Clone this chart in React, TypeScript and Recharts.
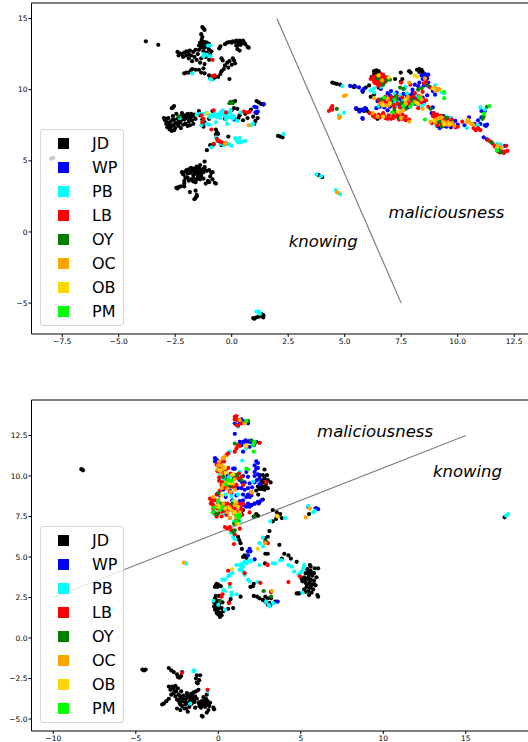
import {
  ScatterChart,
  Scatter,
  XAxis,
  YAxis,
  Legend,
  ReferenceArea,
  ReferenceLine,
  ReferenceDot,
} from 'recharts'

type Pt = [number, number]

const GROUPS = ['JD', 'WP', 'PB', 'LB', 'OY', 'OC', 'OB', 'PM']
const COLORS = ['#000000', '#0000ff', '#00ffff', '#ff0000', '#008000', '#ffa500', '#ffd700', '#00ff00']

// upper panel
const topXTicks = [-7.5, -5, -2.5, 0, 2.5, 5, 7.5, 10, 12.5]
const topYTicks = [-5, 0, 5, 10, 15]

const topJD: Pt[] = [
  [-7.9, 5.2], [-8.0, 5.15], [-3.8, 13.4], [-3.25, 13.15],
  [-1.3, 14.4], [-1.25, 14.3], [-1.2, 14.2], [-1.35, 13.9], [-1.3, 13.7], [-1.33, 13.5],
  [-1.4, 13.3], [-1.3, 13.35], [-1.2, 13.35], [-1.1, 13.3], [-1.45, 13.1], [-1.3, 13.1], [-1.15, 13.1], [-1.0, 13.2],
  [-1.35, 12.95], [-1.2, 12.95], [-1.05, 13.0],
  [-2.4, 12.65], [-2.3, 12.55], [-2.35, 12.4], [-2.2, 12.5], [-2.15, 12.3], [-2.1, 12.6], [-2.0, 12.4], [-2.0, 12.7],
  [-1.9, 12.5], [-1.9, 12.2], [-1.85, 12.75], [-1.8, 12.4], [-1.75, 12.0], [-1.7, 12.65], [-1.65, 12.3], [-1.6, 12.8],
  [-1.55, 12.1], [-1.5, 12.5], [-1.45, 12.8], [-1.4, 11.9], [-1.35, 12.2], [-1.25, 12.7], [-1.2, 11.8], [-1.15, 12.3],
  [-1.1, 12.6], [-1.0, 12.1], [-1.0, 12.8], [-0.95, 12.45], [-0.9, 12.7],
  [-2.1, 11.15], [-2.0, 11.2], [-1.9, 11.2], [-1.8, 11.35], [-1.75, 11.45], [-1.6, 11.4], [-1.45, 11.4], [-1.35, 11.2],
  [-1.2, 11.15], [-1.25, 11.5],
  [-1.0, 11.0], [-0.95, 10.8], [-0.85, 10.75], [-0.75, 10.85], [-0.6, 10.9], [-0.5, 11.1], [-0.45, 11.3], [-0.35, 11.45],
  [-0.3, 11.7], [-0.2, 11.9], [-0.1, 12.0], [0.05, 12.2], [0.1, 12.05], [0.15, 11.85], [-0.45, 12.2], [-0.4, 12.05],
  [-0.15, 11.55], [0.0, 11.75], [-0.1, 10.75],
  [-0.3, 13.2], [-0.2, 13.3], [-0.1, 13.35], [0.0, 13.3], [0.05, 13.4], [0.15, 13.35], [0.2, 13.45], [0.3, 13.3],
  [0.35, 13.45], [0.45, 13.35], [0.5, 13.45], [0.55, 13.3], [0.6, 13.2], [0.7, 13.0], [0.75, 12.95], [0.2, 13.1],
  [0.3, 13.15], [0.4, 13.15], [0.25, 12.85], [0.35, 12.75], [-0.55, 12.9], [-0.5, 13.05],
  [-2.6, 8.75], [-2.55, 8.85], [-2.65, 8.7], [-3.0, 8.0], [-2.95, 7.85], [-2.9, 7.95], [-2.85, 7.7], [-2.8, 8.0],
  [-2.8, 7.5], [-2.75, 7.2], [-2.7, 7.35], [-2.7, 7.75], [-2.65, 7.1], [-2.6, 7.5], [-2.6, 8.15], [-2.55, 7.9],
  [-2.5, 7.3], [-2.45, 8.3], [-2.45, 7.6], [-2.4, 7.95], [-2.35, 7.45], [-2.3, 8.1], [-2.3, 7.7], [-2.25, 7.3],
  [-2.2, 8.35], [-2.15, 7.55], [-2.1, 7.9], [-2.05, 8.2], [-2.05, 7.6], [-2.0, 8.0], [-1.95, 8.3], [-1.9, 7.75],
  [-1.85, 7.5], [-1.8, 8.1], [-1.8, 8.3], [-1.75, 7.85], [-1.7, 7.6], [-1.65, 8.25], [-1.6, 7.95], [-2.9, 7.6],
  [-2.5, 7.65], [-2.75, 7.55], [-2.25, 7.85], [-1.95, 7.45], [-2.55, 7.15], [-2.15, 8.1], [-1.85, 7.95], [-1.7, 8.15],
  [-1.9, 8.1], [-2.35, 7.75], [-2.85, 7.35], [-2.6, 7.9],
  [-1.45, 8.5], [-1.4, 8.2], [-1.3, 7.9], [-1.25, 7.4], [-1.2, 7.7], [-1.0, 7.95], [-0.85, 8.5], [-0.7, 7.2],
  [-0.65, 7.0], [-0.7, 6.85], [-0.6, 6.9], [-0.15, 6.7], [-0.3, 7.95], [0.0, 8.55], [0.1, 8.7], [0.25, 8.65],
  [0.3, 8.0], [0.35, 8.2], [0.5, 7.85], [0.6, 8.3], [0.7, 8.0], [0.85, 8.6], [0.95, 8.1], [1.0, 7.6], [1.05, 7.8],
  [1.1, 8.35], [1.15, 8.0], [1.1, 9.2], [1.2, 9.1], [1.3, 9.0], [1.4, 8.95], [0.15, 9.2], [0.05, 9.15],
  [-1.1, 5.75], [-0.95, 6.1], [-0.8, 6.15], [-0.45, 6.1],
  [-1.2, 4.95], [-1.4, 4.7], [-1.55, 4.6], [-2.2, 4.2], [-2.15, 4.05], [-2.05, 4.25], [-2.0, 4.35], [-1.95, 4.1],
  [-1.9, 4.4], [-1.85, 4.15], [-1.8, 4.5], [-1.75, 4.25], [-1.7, 4.0], [-1.65, 4.45], [-1.6, 4.2], [-1.55, 4.35],
  [-1.5, 4.05], [-1.45, 4.5], [-1.4, 4.25], [-1.35, 4.0], [-1.3, 4.4], [-1.25, 4.2], [-1.2, 4.55], [-1.1, 4.3],
  [-1.0, 4.35], [-0.9, 4.15], [-0.85, 4.2], [-0.95, 3.9], [-0.85, 3.7], [-1.05, 3.6], [-1.15, 3.4], [-1.0, 3.5],
  [-0.75, 3.45], [-0.7, 3.4], [-2.1, 3.6], [-2.05, 3.85], [-2.1, 3.4], [-1.9, 3.6], [-1.8, 3.7], [-1.7, 3.55],
  [-1.55, 3.7], [-1.4, 3.7], [-1.25, 3.75], [-1.6, 3.5], [-2.45, 3.1], [-2.35, 3.15], [-2.4, 3.05], [-2.25, 3.2],
  [-2.1, 3.2], [-1.85, 2.8], [-1.6, 2.9], [-1.55, 2.6], [-1.6, 2.4], [-1.65, 2.3], [-1.55, 2.5],
  [-1.6, 4.1], [-1.45, 4.15], [-1.3, 4.25], [-1.75, 4.4], [-1.5, 4.3], [-1.2, 4.35], [-1.7, 3.8], [-1.5, 3.85],
  [-1.35, 3.85], [-1.95, 3.8],
  [1.0, -6.1], [0.95, -6.05], [1.1, -6.0], [1.2, -5.95], [1.3, -5.9], [1.4, -5.85], [1.3, -5.75], [1.4, -6.0],
  [2.05, 6.75], [2.15, 6.7], [2.25, 6.65], [3.85, 4.0], [4.0, 3.85],
  [4.45, 10.5], [4.55, 10.45], [4.65, 10.4], [4.8, 10.35], [5.38, 10.2], [5.45, 10.2],
  [6.37, 11.2], [6.45, 11.2], [6.55, 11.15], [6.3, 11.1], [6.2, 10.9], [6.3, 11.3], [6.4, 11.35], [6.5, 11.3],
  [7.48, 11.2], [7.85, 11.3], [7.92, 11.2],
  [8.2, 11.4], [8.3, 11.45], [8.4, 11.4], [8.3, 11.25], [8.45, 11.25], [7.55, 10.75], [7.23, 10.75], [7.48, 10.55],
  [5.8, 9.85], [5.93, 10.15], [6.08, 10.3], [6.15, 9.5], [6.3, 9.67], [6.5, 10.15],
  [5.5, 8.65], [5.6, 8.6], [5.7, 8.55], [5.85, 8.5], [5.95, 8.65], [6.0, 8.5], [6.45, 7.95],
  [8.95, 7.7], [9.1, 7.45], [9.25, 7.7], [9.4, 8.1], [9.45, 7.55], [9.55, 8.0], [9.7, 7.75], [9.35, 8.15],
]
const topWP: Pt[] = [
  [1.1, 8.75], [1.0, 8.8], [1.05, 8.4], [1.15, 8.45], [1.43, 8.99], [0.1, 7.9],
  [5.24, 10.26], [5.44, 10.26], [5.63, 10.16], [5.78, 9.93], [5.85, 10.05], [5.5, 8.7], [5.75, 8.6], [5.85, 8.55],
  [5.9, 8.7], [5.65, 8.45], [5.8, 7.95], [5.78, 8.0],
  [8.4, 11.0], [8.5, 10.9], [8.55, 11.1], [8.6, 10.95], [8.7, 11.05], [8.45, 10.75], [8.65, 10.8], [8.3, 10.5],
  [8.1, 10.35], [8.5, 10.3], [8.7, 10.5], [8.75, 10.2], [8.0, 10.0], [7.65, 10.1], [7.9, 9.6], [7.2, 9.45], [7.1, 9.25],
  [7.3, 9.1], [7.0, 9.6], [7.55, 9.2], [6.6, 10.05], [6.45, 9.2], [6.7, 9.35], [6.95, 9.0], [7.4, 8.9], [7.8, 8.75],
  [8.15, 9.0], [8.5, 9.1], [8.9, 8.75], [6.55, 8.8], [6.4, 8.7], [6.9, 8.55], [9.7, 8.0], [9.9, 7.8], [10.0, 7.55],
  [10.3, 7.5], [10.75, 7.6], [11.0, 7.6], [11.05, 8.05], [10.9, 7.85], [11.2, 7.5], [11.3, 7.55], [11.25, 7.45],
  [11.15, 6.65], [11.3, 6.5], [10.5, 8.05], [9.2, 7.3], [9.5, 7.4], [8.95, 8.2], [11.9, 5.75], [12.1, 6.05], [11.7, 6.05],
  [11.75, 5.85], [11.85, 6.0], [11.05, 8.5], [11.2, 8.5],
  [6.9, 9.75], [7.05, 9.9], [7.3, 9.8], [7.6, 9.7], [7.75, 9.55], [8.0, 9.75], [8.25, 10.25], [8.15, 9.4], [8.45, 9.45],
  [7.45, 9.35], [7.2, 8.9], [6.75, 8.75], [7.0, 8.8], [8.65, 9.6], [8.9, 9.9], [9.0, 9.65], [9.4, 7.45], [9.7, 7.35], [8.85, 8.35],
]
const topPB: Pt[] = [
  [-0.95, 13.1], [-1.05, 13.1], [-1.25, 12.5], [-1.25, 12.35], [-1.1, 12.45], [-0.95, 12.35], [-1.75, 11.15],
  [-0.95, 10.75], [-0.9, 10.7],
  [-1.55, 8.25], [-1.4, 8.3], [-1.3, 8.25], [-1.2, 8.3], [-1.1, 8.35], [-1.0, 8.2], [-0.95, 8.05], [-0.9, 8.2],
  [-0.8, 8.15], [-0.75, 8.3], [-0.65, 8.05], [-0.6, 8.25], [-0.55, 8.15], [-0.5, 8.4], [-0.5, 8.0], [-0.45, 8.25],
  [-0.4, 8.55], [-0.35, 8.35], [-0.3, 8.15], [-0.25, 8.1], [-0.25, 7.9], [-0.2, 8.3], [-0.1, 8.4], [-0.1, 8.05],
  [-0.05, 8.55], [0.0, 8.2], [0.05, 7.95], [0.1, 8.1], [-0.2, 7.6], [-0.7, 7.7], [-1.1, 7.6], [-1.3, 7.7], [-1.35, 7.5],
  [-2.3, 8.0], [-1.0, 7.55], [0.25, 7.8], [0.85, 7.5], [0.95, 7.6], [0.4, 8.4],
  [-0.7, 6.65], [-0.65, 6.4], [-0.5, 6.2], [-0.35, 6.1], [-0.1, 6.15], [0.0, 6.05], [0.15, 6.6], [0.2, 6.5], [0.25, 6.35],
  [0.3, 6.3], [0.4, 6.3], [0.5, 6.35], [0.6, 6.4], [0.35, 6.6], [-0.9, 5.95],
  [1.1, -5.6], [1.2, -5.6], [1.25, -5.75], [2.28, 6.87], [3.75, 4.05], [3.95, 3.9], [4.6, 2.95], [4.8, 2.65],
  [4.75, 8.2], [4.97, 8.38], [4.9, 10.25], [6.3, 9.8], [6.5, 8.85], [6.6, 10.2], [6.9, 10.9], [6.95, 10.8], [7.7, 10.2],
  [8.15, 9.6], [9.0, 10.3], [9.3, 9.8], [9.4, 9.75], [8.36, 8.8], [7.9, 9.15], [7.25, 9.15], [7.5, 8.7], [9.7, 8.0],
  [10.4, 7.3], [11.0, 8.75], [11.2, 8.6], [10.9, 7.5], [11.75, 6.2], [11.7, 5.95], [11.9, 6.15],
  [7.0, 9.15], [7.2, 9.7], [7.45, 9.6], [7.6, 9.3], [8.0, 9.2], [7.3, 8.85], [8.5, 8.95], [6.65, 9.2], [7.75, 9.75],
  [6.3, 10.1], [6.15, 9.95], [9.05, 7.55], [9.5, 8.1],
]
const topLB: Pt[] = [
  [-0.85, 12.1], [-0.8, 10.95], [-0.75, 11.0], [-0.85, 10.95],
  [-1.35, 8.2], [-0.8, 8.55], [-1.3, 7.7], [-0.25, 8.4], [0.55, 8.45], [0.7, 8.4], [0.8, 8.45], [-0.9, 7.2], [-1.25, 7.95],
  [-0.65, 6.55], [-0.6, 6.4], [-0.5, 6.35], [-0.45, 6.3], [-0.35, 6.25], [-0.25, 6.2], [-0.8, 6.2],
  [4.4, 8.7], [4.3, 8.5], [4.45, 8.85], [4.45, 8.6],
  [6.15, 10.75], [6.3, 10.55], [6.35, 10.85], [6.4, 10.65], [6.45, 10.4], [6.5, 10.75], [6.55, 10.95], [6.6, 10.55],
  [6.65, 10.8], [6.7, 11.05], [6.7, 10.45], [6.75, 10.7], [6.6, 11.1], [6.85, 10.85], [6.5, 10.25], [6.35, 10.45],
  [6.25, 10.9], [6.4, 10.95], [6.55, 10.5], [6.65, 10.35], [6.6, 10.75], [6.45, 10.55], [6.3, 10.7], [6.75, 10.9], [6.8, 10.55],
  [6.5, 9.3], [6.7, 9.05], [6.8, 9.5], [7.0, 9.3], [7.3, 9.55], [7.55, 9.45], [7.75, 9.2], [7.9, 9.4], [8.2, 9.3],
  [8.3, 9.55], [8.45, 9.85], [8.1, 9.75], [8.4, 9.1], [8.6, 9.25], [8.7, 8.8], [7.45, 8.75], [7.65, 8.8], [8.6, 10.55],
  [8.8, 10.15], [8.5, 10.45], [7.9, 10.35], [7.5, 10.5], [7.95, 9.1], [6.85, 9.05], [7.2, 8.75],
  [6.55, 9.15], [6.75, 9.2], [6.95, 9.15], [7.15, 8.95], [7.35, 9.0], [7.6, 9.0], [7.85, 9.0], [8.05, 9.5], [8.3, 9.2],
  [8.45, 9.35], [8.25, 8.7], [7.05, 9.5], [6.6, 8.95],
  [6.1, 8.35], [6.3, 8.25], [6.35, 8.05], [6.5, 8.25], [6.6, 8.15], [6.7, 8.35], [6.8, 8.0], [6.9, 7.95], [7.05, 7.95],
  [7.15, 8.0], [7.3, 8.1], [7.4, 7.9], [7.55, 8.25], [7.7, 8.1], [7.55, 7.95], [7.85, 7.9], [7.3, 8.4],
  [6.25, 8.15], [6.55, 8.05], [6.95, 8.2], [7.15, 8.2], [7.35, 8.2], [7.7, 7.85], [6.75, 8.15],
  [8.9, 8.15], [9.0, 7.95], [9.05, 8.2], [9.2, 7.85], [9.3, 7.6], [9.35, 8.0], [9.5, 7.7], [9.6, 7.5], [9.1, 7.5],
  [9.75, 7.9], [9.9, 7.35], [10.0, 7.4], [10.2, 7.75], [10.8, 7.15], [10.9, 7.3], [11.0, 7.15], [10.7, 7.3],
  [9.1, 8.25], [8.95, 8.35], [9.25, 8.15], [9.4, 7.9], [9.15, 7.7], [9.65, 7.65], [9.55, 7.95], [9.8, 7.55], [9.3, 7.45], [8.85, 7.65],
  [11.35, 6.45], [11.45, 6.35], [11.55, 6.2], [11.65, 6.0], [12.1, 5.65], [12.2, 5.7], [12.0, 5.6], [11.85, 5.6],
  [11.95, 5.65], [12.05, 5.55], [12.15, 6.05],
]
const topOY: Pt[] = [
  [-0.1, 9.05], [-0.05, 9.15], [0.0, 9.1], [0.05, 9.05], [-2.35, 8.1], [4.65, 8.65], [6.85, 10.65], [7.0, 10.7],
  [6.6, 10.6], [6.45, 10.8], [7.45, 10.15], [7.6, 10.05], [8.25, 10.0], [8.4, 10.1], [7.3, 9.3], [7.95, 8.95], [8.0, 9.3],
  [6.6, 9.3], [7.7, 8.65], [7.2, 8.55], [8.8, 8.65], [9.5, 8.0], [9.2, 7.75], [9.3, 7.4], [11.15, 8.1], [11.1, 7.95],
  [11.3, 8.8], [11.5, 6.3], [11.75, 5.7], [11.9, 5.6], [8.65, 10.3], [7.4, 8.0], [9.75, 7.7], [6.7, 10.35],
  [7.25, 9.5], [7.5, 9.05], [8.25, 9.2], [7.05, 9.05], [9.1, 9.95],
]
const topOC: Pt[] = [
  [-0.3, 6.2], [-0.25, 6.25], [0.75, 7.5], [4.97, 9.56], [5.05, 9.6], [4.8, 8.1], [4.75, 8.0], [4.65, 2.8], [4.7, 2.75],
  [6.65, 10.65], [6.25, 8.35], [6.45, 8.1], [6.65, 9.05], [6.3, 9.4], [6.9, 9.35], [7.45, 8.4], [7.6, 8.55], [7.5, 8.0],
  [7.85, 7.75], [8.35, 9.55], [8.1, 9.15], [8.25, 9.0], [9.0, 10.15], [9.15, 10.05], [9.1, 10.0], [8.55, 10.8], [9.0, 7.7],
  [9.45, 7.65], [9.6, 7.7], [9.3, 8.05], [9.1, 7.95], [9.85, 7.45], [10.4, 7.7], [10.5, 7.75], [10.6, 7.6], [10.7, 7.55],
  [10.45, 7.9], [11.8, 6.1], [11.95, 5.9], [8.8, 7.75], [7.85, 10.5],
  [6.6, 9.0], [6.8, 8.9], [6.95, 8.9], [7.7, 9.05], [8.4, 9.3], [9.0, 9.95], [9.2, 10.0], [8.45, 8.65], [7.8, 9.5],
  [9.35, 7.75], [9.2, 8.0], [9.55, 7.55], [9.75, 7.65],
]
const topOB: Pt[] = [
  [-1.1, 8.3], [6.5, 11.0], [6.95, 10.85], [8.1, 11.0], [8.2, 10.9], [6.7, 8.9], [7.0, 9.05], [7.7, 9.3], [8.2, 9.05],
  [8.9, 10.1], [9.4, 7.55], [8.95, 7.85], [7.35, 8.45], [6.7, 8.1], [9.65, 7.55], [11.75, 5.95],
]
const topPM: Pt[] = [
  [7.9, 8.8], [7.2, 9.3], [8.0, 9.0], [8.55, 7.9], [9.4, 9.4], [9.4, 9.85], [7.6, 8.85], [6.75, 9.45], [11.4, 8.85],
  [11.15, 8.3], [11.75, 5.75], [8.3, 9.45], [7.1, 8.4],
]

// lower panel
const botXTicks = [-10, -5, 0, 5, 10, 15]
const botYTicks = [-5, -2.5, 0, 2.5, 5, 7.5, 10, 12.5]

const botJD: Pt[] = [
  [-8.25, 10.4], [-8.2, 10.35], [-8.3, 10.42], [-4.6, -1.95], [-4.5, -2.0], [-4.4, -1.95],
  [-3.0, -1.85], [-2.85, -2.0], [-2.7, -2.1], [-2.5, -2.25], [-2.45, -2.4], [-2.35, -2.45], [-2.25, -2.35], [-2.2, -2.1],
  [-1.3, -2.3], [-1.35, -2.5], [-1.1, -2.3], [-1.15, -2.6], [-1.25, -2.8], [-1.3, -2.75],
  [-3.0, -3.0], [-2.9, -3.2], [-2.8, -3.0], [-2.7, -3.15], [-2.6, -2.95], [-2.85, -3.5], [-2.7, -3.4], [-2.6, -3.6],
  [-2.55, -3.3], [-2.5, -3.8], [-2.45, -3.1], [-2.4, -3.5], [-2.35, -4.0], [-2.3, -3.7], [-2.25, -3.3], [-2.2, -4.2],
  [-2.15, -3.9], [-2.1, -3.55], [-2.05, -4.35], [-2.0, -4.1], [-1.95, -3.75], [-1.9, -3.4], [-1.85, -4.55], [-1.85, -4.0],
  [-1.8, -3.6], [-1.75, -4.25], [-1.7, -3.85], [-1.65, -3.45], [-1.6, -4.05], [-1.55, -3.7], [-1.5, -3.35], [-1.45, -3.95],
  [-1.4, -3.6], [-1.35, -3.3], [-1.3, -3.75], [-3.4, -4.1], [-3.3, -4.05], [-3.15, -3.9], [-3.0, -3.75], [-2.5, -4.35],
  [-2.3, -4.45], [-1.2, -3.2],
  [-2.4, -3.85], [-2.1, -3.8], [-1.9, -3.65], [-2.2, -3.6], [-2.0, -3.95], [-1.7, -3.7], [-1.6, -3.5], [-1.5, -3.85],
  [-2.3, -4.1], [-1.95, -4.35],
  [-1.2, -4.0], [-1.15, -4.2], [-1.1, -3.95], [-1.05, -4.3], [-1.0, -3.9], [-0.95, -4.15], [-0.9, -3.65], [-0.85, -4.0],
  [-0.8, -4.25], [-0.75, -3.75], [-0.7, -4.1], [-0.65, -3.9], [-0.55, -4.2], [-0.5, -4.0], [-0.3, -4.3], [-0.25, -4.4],
  [-0.6, -4.45], [-0.7, -4.6], [-1.0, -4.8], [-0.95, -4.85], [-1.4, -4.3], [-0.7, -3.5], [-0.9, -4.05], [-0.8, -3.85], [-1.0, -4.1],
  [2.8, 10.4], [2.5, 10.05], [2.7, 10.05], [2.95, 10.05], [2.8, 9.85], [3.0, 9.75], [3.17, 9.6], [2.6, 9.55], [2.9, 9.5],
  [2.4, 9.35], [2.7, 9.35], [3.0, 9.25], [2.5, 9.2], [2.8, 9.15], [2.3, 9.1], [2.42, 8.85], [2.7, 8.55], [2.5, 8.4],
  [2.6, 9.75], [2.75, 9.6], [2.55, 9.35], [2.85, 9.3], [2.65, 9.2],
  [2.2, 8.3], [2.0, 8.2], [2.3, 7.65], [2.4, 7.55], [2.15, 7.5], [3.3, 7.9], [3.55, 7.75], [3.75, 7.65], [3.85, 7.4],
  [3.5, 7.35], [3.3, 7.2], [3.65, 7.55], [5.5, 7.65], [5.9, 8.0], [1.5, 7.9], [1.4, 7.7],
  [3.1, 6.6], [3.0, 6.25], [1.2, 6.25], [1.27, 6.05], [1.35, 5.85], [1.43, 5.5], [3.7, 5.75], [2.83, 6.15],
  [2.85, 5.2], [3.0, 5.2], [1.6, 5.1], [1.5, 5.0], [1.7, 4.95], [2.83, 4.6],
  [4.0, 5.2], [4.25, 5.1], [4.4, 4.9], [3.85, 4.9], [4.75, 4.7], [5.55, 4.5],
  [5.6, 4.4], [5.85, 4.3], [6.05, 4.3], [5.4, 4.25], [5.6, 4.15], [5.8, 4.0], [5.3, 4.0], [5.5, 3.9], [5.7, 3.85],
  [5.2, 3.75], [5.4, 3.65], [5.6, 3.6], [5.8, 3.55], [5.95, 3.75], [5.1, 3.5], [5.3, 3.4], [5.5, 3.35], [5.7, 3.3],
  [5.9, 3.25], [5.35, 3.15], [5.55, 3.1], [5.75, 3.0], [5.45, 2.9], [5.65, 2.8], [5.5, 2.65], [5.3, 2.85], [6.0, 2.65],
  [6.05, 2.55], [4.85, 2.75], [4.75, 2.75], [5.2, 3.0], [5.05, 3.65],
  [5.45, 3.75], [5.25, 3.6], [5.65, 4.0], [5.45, 4.05], [5.55, 3.45], [5.6, 3.15], [5.4, 3.35], [5.8, 3.35],
  [-0.15, 3.25], [0.0, 3.3], [-0.2, 3.15], [-0.05, 3.15], [0.15, 3.2], [-0.1, 3.35],
  [-0.15, 2.6], [-0.05, 2.3], [0.05, 2.6], [-0.25, 2.2], [-0.15, 2.0], [-0.05, 1.8], [0.0, 1.6], [0.1, 1.5], [0.2, 1.4],
  [0.1, 1.3], [-0.1, 1.55], [-0.2, 1.75], [0.3, 1.65], [0.2, 1.85], [0.05, 2.05], [0.25, 2.2], [-0.25, 1.95], [0.6, 1.8],
  [0.05, 1.85], [0.0, 1.45], [0.15, 1.55], [-0.1, 2.2], [-0.2, 2.45],
  [0.65, 2.2], [0.9, 1.85], [0.75, 2.4], [1.35, 2.55], [1.95, 3.15], [2.1, 3.2], [2.15, 3.35],
  [2.15, 2.6], [2.35, 2.55], [2.5, 2.45], [2.7, 2.35], [2.85, 2.25], [3.0, 2.45], [3.1, 2.15], [3.0, 2.05], [3.2, 2.45],
  [3.45, 2.25], [2.85, 2.55], [3.2, 2.85], [4.9, 2.75], [17.35, 7.45],
]
const botWP: Pt[] = [
  [1.0, 12.6], [1.2, 13.45], [1.4, 13.5], [1.6, 13.35], [1.0, 13.25], [1.3, 13.25], [1.8, 13.25],
  [1.3, 12.1], [1.5, 12.1], [1.7, 12.0], [1.95, 12.1], [2.3, 12.1], [2.5, 12.05], [2.15, 11.9], [1.4, 11.9], [1.9, 11.8],
  [1.5, 11.5], [-0.2, 11.1], [-0.1, 11.0], [0.0, 10.9], [-0.2, 10.9],
  [2.3, 10.9], [2.2, 10.65], [2.4, 10.8], [2.3, 10.45], [2.4, 10.5], [2.2, 10.25], [2.4, 10.1], [2.5, 9.85], [2.2, 10.0],
  [2.35, 9.75], [1.0, 10.45], [0.9, 10.45], [1.8, 9.95], [1.6, 9.6], [1.9, 9.55], [1.8, 9.25], [1.6, 9.15], [2.0, 9.0],
  [1.8, 8.85], [2.0, 8.8], [1.7, 8.7], [1.9, 8.7], [1.3, 9.75], [1.2, 9.25], [0.7, 9.1], [0.3, 9.15], [1.1, 8.8], [1.5, 8.85],
  [1.8, 8.3], [2.0, 8.2], [2.2, 8.3], [1.9, 8.1], [1.7, 8.1], [2.4, 8.4], [2.6, 8.5], [0.1, 8.8], [-0.05, 8.9],
  [5.45, 8.1], [5.95, 8.0], [6.05, 7.95], [1.9, 5.5], [1.8, 5.35], [1.95, 5.35], [1.8, 5.1], [2.2, 4.85], [3.6, 2.25], [3.15, 2.0],
  [-0.05, 10.7], [0.05, 10.55], [0.55, 10.0], [1.4, 9.25], [1.45, 9.6], [0.8, 8.95], [1.5, 8.5], [1.55, 8.2], [1.3, 8.45],
  [0.45, 8.7], [0.85, 8.5], [1.15, 9.9], [1.7, 10.25], [1.5, 10.0], [2.05, 9.3], [2.2, 9.6], [2.5, 9.5], [2.45, 8.3],
  [1.65, 12.2], [1.85, 12.15],
]
const botPB: Pt[] = [
  [1.3, 4.5], [1.45, 4.6], [1.6, 4.7], [1.8, 4.7], [2.0, 4.75], [1.5, 4.4], [1.4, 4.3], [1.7, 4.6], [1.9, 4.8], [1.3, 4.2],
  [1.1, 4.5], [0.85, 4.0], [0.7, 3.9], [0.6, 3.8], [0.4, 3.6], [0.25, 3.6],
  [0.3, 2.95], [0.8, 2.8], [0.8, 2.65], [1.1, 2.7], [0.7, 3.15], [0.4, 2.9], [-0.3, 2.3], [0.0, 2.05], [0.4, 1.75],
  [1.6, 3.9], [1.8, 3.6], [1.9, 3.5], [2.4, 3.45], [1.5, 4.1],
  [2.5, 4.5], [3.3, 4.6], [3.45, 4.6], [3.75, 4.8], [3.85, 4.8], [4.25, 4.5], [4.45, 4.4], [4.6, 4.1], [4.85, 3.9], [5.05, 4.1],
  [5.2, 4.5], [5.15, 4.3], [4.95, 4.0], [5.1, 2.8], [2.7, 6.2], [2.5, 5.85], [2.7, 5.65], [3.15, 7.2], [4.05, 7.4],
  [5.45, 8.15], [5.85, 7.85], [5.75, 7.75], [3.05, 2.05], [2.9, 2.25], [3.1, 1.95], [3.35, 2.15],
  [1.45, 10.95], [1.0, 13.45], [1.2, 13.05], [0.2, 10.0], [0.2, 9.8], [1.3, 10.25], [1.0, 9.85], [0.3, 9.7], [0.7, 11.5],
  [1.7, 11.7], [2.1, 9.65], [1.2, 8.85], [-0.1, 8.0], [-0.2, 7.6], [1.1, 7.5], [0.9, 6.25], [0.7, 6.75],
  [-1.95, 4.6], [-6.4, 1.8], [-6.5, 1.75], [-6.6, 1.7], [-6.7, 1.65], [-1.45, -2.0], [-1.5, -2.05], [-1.7, -4.05], [-0.65, -3.3],
  [17.45, 7.55], [17.55, 7.65],
  [0.1, 10.1], [0.35, 9.95], [0.65, 9.95], [0.45, 8.85], [0.8, 8.75], [0.9, 8.45], [-0.3, 7.8], [0.35, 7.65], [0.95, 7.2],
  [1.3, 7.2], [0.75, 6.5], [1.0, 6.1],
]
const botLB: Pt[] = [
  [1.0, 13.65], [1.1, 13.7], [1.0, 13.5], [1.15, 13.45], [1.1, 13.15], [1.2, 13.1], [1.4, 13.25],
  [1.1, 11.7], [1.0, 11.5], [1.2, 11.9], [1.3, 11.85], [2.5, 12.05], [0.6, 11.4], [0.3, 11.1], [0.5, 11.3],
  [-0.1, 10.7], [0.1, 10.6], [0.6, 10.5], [0.05, 9.9], [0.9, 10.05], [1.1, 10.05], [1.2, 9.85], [1.4, 9.95], [0.05, 9.7],
  [0.2, 9.45], [0.4, 9.25], [0.8, 9.35], [1.1, 9.45], [1.5, 9.45], [2.0, 8.95], [0.7, 9.0], [-0.1, 8.85],
  [-0.5, 8.6], [-0.4, 8.4], [-0.2, 8.5], [-0.3, 8.2], [-0.45, 8.3], [-0.1, 8.0], [0.1, 8.2], [0.3, 8.0], [0.5, 8.1], [0.6, 7.9],
  [0.8, 8.2], [1.0, 8.0], [1.2, 8.1], [1.4, 7.9], [0.2, 7.8], [0.4, 8.3], [0.7, 8.2], [0.9, 7.9], [-0.1, 7.5], [0.2, 7.5],
  [-0.2, 7.7], [0.7, 7.4], [1.1, 7.3], [1.2, 7.8], [1.9, 7.75], [1.5, 8.3],
  [-0.35, 8.55], [0.0, 8.1], [0.15, 8.0], [0.35, 7.85], [0.55, 8.3], [0.85, 8.05], [1.05, 8.25], [1.3, 8.25], [0.0, 7.7],
  [0.5, 7.6], [-0.3, 8.0], [1.35, 8.05], [1.45, 7.6], [0.1, 9.1], [0.25, 9.6], [0.55, 9.45], [0.75, 9.6], [0.95, 9.3],
  [1.25, 10.15], [0.15, 10.85], [0.35, 10.9], [-0.05, 10.3], [0.3, 10.2], [0.45, 10.4], [0.75, 10.15],
  [0.4, 6.85], [0.55, 6.75], [0.7, 6.85], [1.0, 6.4], [0.95, 5.8], [0.8, 6.65], [1.3, 6.75],
  [2.85, 5.95], [3.0, 5.85], [2.9, 9.6], [0.6, 4.15], [0.7, 3.35], [1.6, 4.0], [3.0, 4.5], [2.95, 4.55], [2.55, 3.4],
  [4.25, 3.45], [4.95, 3.8], [0.25, 2.7], [0.2, 2.55], [0.65, 2.15], [3.2, 2.85], [-2.2, -2.15], [-0.65, -3.2],
]
const botOY: Pt[] = [
  [1.8, 13.4], [1.7, 13.35], [2.0, 12.2], [2.2, 12.0], [1.0, 12.0], [1.1, 10.05], [1.4, 9.75], [0.7, 9.35], [0.5, 9.75],
  [0.0, 8.95], [0.0, 8.3], [-0.3, 7.75], [0.2, 8.3], [1.3, 7.6], [2.2, 7.5], [0.9, 6.55], [1.0, 6.65], [2.75, 2.9],
  [3.2, 2.55], [0.1, 2.3], [2.9, 5.95], [1.3, 7.5],
  [0.3, 9.95], [0.95, 9.85], [0.25, 7.95], [0.85, 8.3], [-0.05, 7.65], [1.2, 7.25], [0.95, 7.05],
]
const botOC: Pt[] = [
  [1.3, 13.45], [1.6, 13.25], [1.7, 11.8], [0.0, 10.65], [0.1, 10.35], [0.3, 11.1], [0.4, 11.2], [0.2, 10.65], [0.25, 10.4],
  [0.8, 10.05], [0.2, 9.25], [0.3, 9.45], [0.9, 9.55], [1.0, 9.15], [2.0, 9.0], [-0.3, 8.7], [0.2, 8.1], [0.6, 8.1], [1.0, 8.2],
  [1.3, 7.75], [0.7, 7.4], [1.1, 7.1], [5.3, 7.45], [5.55, 8.0], [-2.1, 4.65], [3.55, 7.55], [2.85, 5.85], [3.25, 2.9],
  [0.05, 10.9], [0.15, 10.15], [0.35, 10.55], [-0.05, 10.4], [0.45, 9.6], [0.55, 9.2], [1.0, 9.8], [0.0, 8.55], [0.3, 8.3],
  [0.55, 7.75], [0.85, 7.85], [1.1, 8.35], [-0.2, 8.05], [0.95, 7.65], [0.75, 9.0], [1.1, 7.45],
]
const botOB: Pt[] = [
  [0.1, 10.35], [0.4, 10.5], [0.9, 10.1], [0.8, 9.55], [0.0, 8.2], [0.4, 8.0], [1.2, 8.1], [2.4, 5.5], [0.85, 4.25], [3.6, 7.5],
  [1.7, 11.9], [0.2, 8.8], [1.2, 7.05], [0.45, 10.2], [0.6, 9.55], [0.05, 8.05], [0.7, 8.0], [1.0, 7.75], [1.0, 8.45],
]
const botPM: Pt[] = [
  [1.7, 13.4], [2.1, 11.9], [2.15, 11.5], [2.2, 12.1], [1.7, 10.45], [1.8, 10.4], [0.8, 9.7], [0.6, 9.75], [0.0, 8.45],
  [-0.35, 7.75], [0.1, 7.9], [1.25, 7.4], [1.3, 7.6], [1.1, 7.2], [0.45, 9.5], [0.25, 8.1], [1.1, 7.55], [-0.25, 8.05],
]

const topSeries = [topJD, topWP, topPB, topLB, topOY, topOC, topOB, topPM]
const botSeries = [botJD, botWP, botPB, botLB, botOY, botOC, botOB, botPM]

const axisTick = { fill: '#000', fontSize: 7.5, fontFamily: 'DejaVu Sans' }
const noteStyle = { fill: '#000', fontSize: 16.5, fontStyle: 'italic', fontFamily: 'DejaVu Sans' }

const fmt = (digits: number) => (v: number) => (v < 0 ? '\u2212' : '') + Math.abs(v).toFixed(digits)

// small round marks, the default symbol is far too big here
const Dot = (props: any) => <circle cx={props.cx} cy={props.cy} r={2.1} fill={props.fill} />

function KeyBox() {
  return (
    <div
      style={{
        width: 84,
        height: 197,
        boxSizing: 'border-box',
        background: 'rgba(255,255,255,0.8)',
        border: '1px solid #d6d6d6',
        borderRadius: 3,
        padding: '1.5px 0',
      }}
    >
      {GROUPS.map((g, i) => (
        <div key={g} style={{ height: 24, display: 'flex', alignItems: 'center', fontFamily: 'DejaVu Sans', fontSize: 16, color: '#000' }}>
          <span style={{ width: 11.5, height: 11.5, marginLeft: 16.5, marginRight: 23, background: COLORS[i], flex: 'none' }} />
          {g}
        </div>
      ))}
    </div>
  )
}

interface PanelProps {
  plotTop: number
  xDomain: [number, number]
  yDomain: [number, number]
  xTicks: number[]
  yTicks: number[]
  xDigits: number
  yDigits: number
  series: Pt[][]
  line: [Pt, Pt]
  notes: { text: string; x: number; y: number }[]
  legendTop: number
}

function Panel(p: PanelProps) {
  return (
    <ScatterChart width={532} height={345} margin={{ top: p.plotTop, right: 2, bottom: 0, left: 0 }}>
      <XAxis
        type="number"
        dataKey="x"
        domain={p.xDomain}
        ticks={p.xTicks}
        allowDataOverflow
        height={11}
        axisLine={false}
        tickSize={3}
        tickMargin={2}
        tick={axisTick}
        tickLine={{ stroke: '#000' }}
        tickFormatter={fmt(p.xDigits)}
        interval={0}
      />
      <YAxis
        type="number"
        dataKey="y"
        domain={p.yDomain}
        ticks={p.yTicks}
        allowDataOverflow
        width={31.5}
        axisLine={false}
        tickSize={3}
        tickMargin={1}
        tick={axisTick}
        tickLine={{ stroke: '#000' }}
        tickFormatter={fmt(p.yDigits)}
        interval={0}
      />
      {p.series.map((pts, i) => (
        <Scatter
          key={GROUPS[i]}
          name={GROUPS[i]}
          data={pts.map(([x, y]) => ({ x, y }))}
          fill={COLORS[i]}
          shape={Dot}
          isAnimationActive={false}
        />
      ))}
      <ReferenceLine
        segment={[{ x: p.line[0][0], y: p.line[0][1] }, { x: p.line[1][0], y: p.line[1][1] }]}
        stroke="#808080"
        strokeWidth={1.2}
      />
      {p.notes.map(n => (
        <ReferenceDot
          key={n.text}
          x={n.x}
          y={n.y}
          r={0}
          stroke="none"
          label={{ value: n.text, position: 'center', style: noteStyle }}
        />
      ))}
      <ReferenceArea
        x1={p.xDomain[0]}
        x2={p.xDomain[1]}
        y1={p.yDomain[0]}
        y2={p.yDomain[1]}
        fill="none"
        stroke="#000"
        strokeWidth={1}
      />
      <Legend
        align="center"
        verticalAlign="middle"
        content={() => <KeyBox />}
        wrapperStyle={{ left: 40, top: p.legendTop, width: 84, height: 197 }}
      />
    </ScatterChart>
  )
}

export default function App() {
  return (
    <div style={{ position: 'absolute', left: 0, top: 0, width: 528, height: 742, overflow: 'hidden', background: '#fff' }}>
      <div style={{ position: 'absolute', left: 0, top: 0 }}>
        <Panel
          plotTop={3}
          xDomain={[-8.86, 13.2]}
          yDomain={[-7.17, 16.09]}
          xTicks={topXTicks}
          yTicks={topYTicks}
          xDigits={1}
          yDigits={0}
          series={topSeries}
          line={[[2, 15], [7.5, -5]]}
          notes={[
            { text: 'knowing', x: 4.05, y: -0.65 },
            { text: 'maliciousness', x: 9.5, y: 1.4 },
          ]}
          legendTop={129}
        />
      </div>
      <div style={{ position: 'absolute', left: 0, top: 397 }}>
        <Panel
          plotTop={3}
          xDomain={[-11.32, 18.89]}
          yDomain={[-5.74, 14.69]}
          xTicks={botXTicks}
          yTicks={botYTicks}
          xDigits={0}
          yDigits={1}
          series={botSeries}
          line={[[-10, 2.5], [15, 12.5]]}
          notes={[
            { text: 'maliciousness', x: 9.5, y: 12.75 },
            { text: 'knowing', x: 15.1, y: 10.3 },
          ]}
          legendTop={129}
        />
      </div>
    </div>
  )
}
